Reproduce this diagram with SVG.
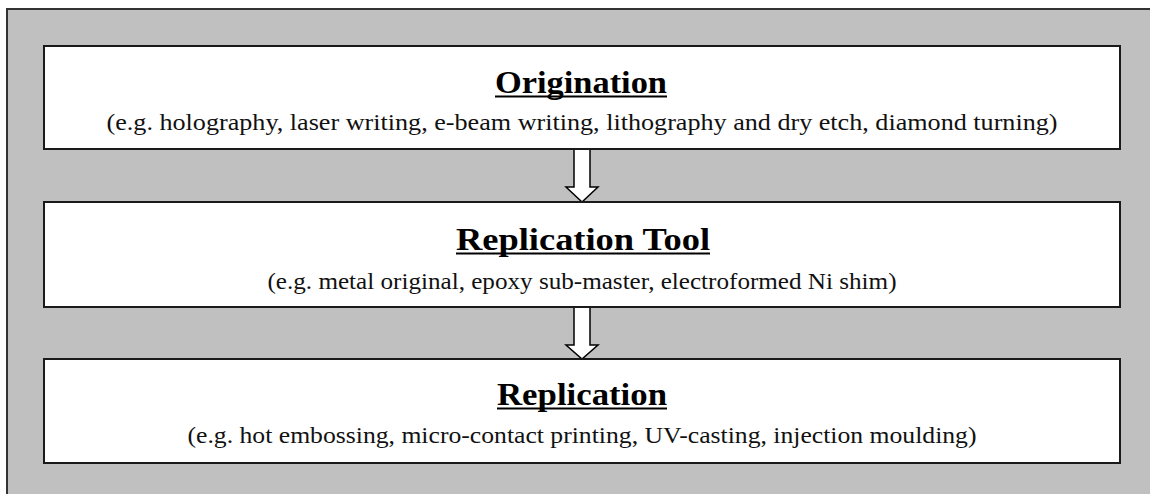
<svg xmlns="http://www.w3.org/2000/svg" width="1150" height="494" viewBox="0 0 1150 494">
  <style>
    .frame { fill: #c0c0c0; stroke: #333333; stroke-width: 2; }
    .box { fill: #ffffff; stroke: #1a1a1a; stroke-width: 2; }
    .title { font-family: "Liberation Serif", "Times New Roman", serif; font-weight: bold; font-size: 32px; fill: #000000; text-anchor: middle; }
    .sub { font-family: "Liberation Serif", "Times New Roman", serif; font-size: 24px; fill: #111111; text-anchor: middle; }
    .uline { stroke: #000000; stroke-width: 2; }
    .arrow { fill: #ffffff; stroke: #000000; stroke-width: 1.5; stroke-linejoin: miter; }
  </style>

  <!-- grey backdrop panel -->
  <rect class="frame" x="7" y="9" width="1160" height="500"/>

  <g id="connectors">
    <polygon class="arrow" points="574,149 590,149 590,187 598,187 582,202 566,187 574,187"/>
    <polygon class="arrow" points="574,307 590,307 590,345 598,345 582,359 566,345 574,345"/>
  </g>

  <g id="origination">
    <rect class="box" x="44" y="46" width="1076" height="103"/>
    <text class="title" x="581" y="93" textLength="172" lengthAdjust="spacingAndGlyphs">Origination</text>
    <line class="uline" x1="495" y1="96.5" x2="667" y2="96.5"/>
    <text class="sub" x="582" y="130" textLength="951" lengthAdjust="spacingAndGlyphs">(e.g. holography, laser writing, e-beam writing, lithography and dry etch, diamond turning)</text>
  </g>

  <g id="replication-tool">
    <rect class="box" x="44" y="202" width="1076" height="105"/>
    <text class="title" x="583" y="250" textLength="254" lengthAdjust="spacingAndGlyphs">Replication Tool</text>
    <line class="uline" x1="456" y1="253.5" x2="710" y2="253.5"/>
    <text class="sub" x="582" y="289" textLength="629" lengthAdjust="spacingAndGlyphs">(e.g. metal original, epoxy sub-master, electroformed Ni shim)</text>
  </g>

  <g id="replication">
    <rect class="box" x="44" y="359" width="1076" height="104"/>
    <text class="title" x="582" y="405" textLength="170" lengthAdjust="spacingAndGlyphs">Replication</text>
    <line class="uline" x1="497" y1="408.5" x2="667" y2="408.5"/>
    <text class="sub" x="582" y="443" textLength="789" lengthAdjust="spacingAndGlyphs">(e.g. hot embossing, micro-contact printing, UV-casting, injection moulding)</text>
  </g>
</svg>
